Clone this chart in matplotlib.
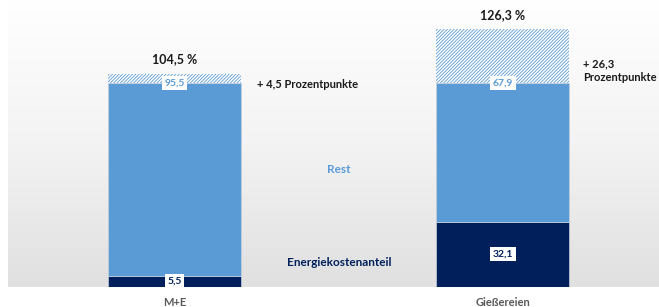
import numpy as np
import matplotlib.pyplot as plt
import matplotlib as mpl

plt.rcParams['font.family'] = ['Lato', 'DejaVu Sans']
mpl.rcParams['hatch.color'] = '#5b9bd5'
mpl.rcParams['hatch.linewidth'] = 0.6

categories = ["M+E", "Gießereien"]
energie = [5.5, 32.1]
rest = [94.5, 67.9]
totals = [104.5, 126.3]
energie_labels = ["5,5", "32,1"]
rest_labels = ["95,5", "67,9"]
total_labels = ["104,5 %", "126,3 %"]
extra_labels = ["+ 4,5 Prozentpunkte", "+ 26,3\nProzentpunkte"]

light = '#5b9bd5'
navy = '#001f5b'

fig = plt.figure(figsize=(6.59, 3.07), dpi=100)
ax = fig.add_axes([8 / 659, 20 / 307, 651 / 659, 287 / 307])

x = np.arange(len(categories))
w = 0.405
ax.set_xlim(-0.507, 1.475)
ax.set_ylim(0, 140.7)

# background gradient, white on top to light grey at the bottom
grad = np.linspace(0, 1, 256).reshape(-1, 1)
cmap = mpl.colors.LinearSegmentedColormap.from_list('bg', ['#e0e0e0', '#f3f3f3', '#ffffff'])
ax.imshow(grad, extent=[-0.507, 1.475, 0, 140.7], origin='lower', aspect='auto', cmap=cmap, zorder=0)

ax.bar(x, energie, w, color=navy, edgecolor='#c8d0dc', linewidth=0.5, zorder=2)
ax.bar(x, rest, w, bottom=energie, color=light, edgecolor='#c8d0dc', linewidth=0.5, zorder=2)
base = np.array(energie) + np.array(rest)
ax.bar(x, np.array(totals) - base, w, bottom=base, color='white', hatch='//////////',
       edgecolor=light, linewidth=0, zorder=2)

box = dict(boxstyle='square,pad=0.25', fc='white', ec='none')
for i in range(len(categories)):
    ax.text(x[i], energie[i] / 2, energie_labels[i], ha='center', va='center',
            color=navy, fontsize=7.5, fontweight='bold', bbox=box, zorder=3)
    ax.text(x[i], base[i], rest_labels[i], ha='center', va='center',
            color=light, fontsize=7.5, fontweight='bold', bbox=box, zorder=3)
    ax.annotate(total_labels[i], (x[i], totals[i]), xytext=(0, 6), textcoords='offset points',
                ha='center', va='bottom', fontsize=9, fontweight='bold', color='#1a1a1a')

ax.text(x[0] + w / 2 + 0.05, 99.5, extra_labels[0], ha='left', va='center',
        fontsize=8, fontweight='bold', color='#1a1a1a')
ax.text(x[1] + w / 2 + 0.04, 106, extra_labels[1], ha='left', va='center',
        fontsize=8, fontweight='bold', color='#1a1a1a', linespacing=1.35)

ax.text(0.5, 57.5, "Rest", ha='center', va='center', fontsize=8.5, fontweight='bold', color=light)
ax.text(0.5, 12, "Energiekostenanteil", ha='center', va='center', fontsize=8.5,
        fontweight='bold', color=navy)

ax.set_xticks(x)
ax.set_xticklabels(categories, fontsize=8, fontweight='bold', color='#595959')
ax.tick_params(axis='x', length=0, pad=7)
ax.set_yticks([])
for s in ax.spines.values():
    s.set_visible(False)

fig.savefig('out.png', dpi=100)
